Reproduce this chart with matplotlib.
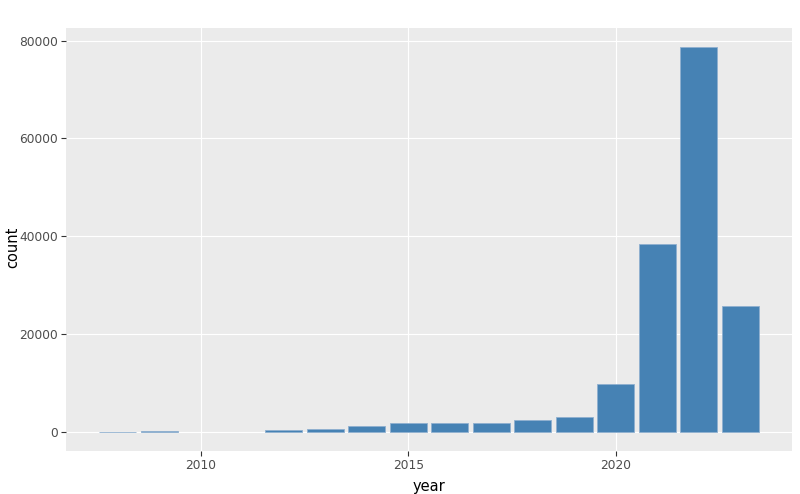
import matplotlib
matplotlib.use("Agg")
import matplotlib.pyplot as plt

# counts per year
years = [2008, 2009, 2012, 2013, 2014, 2015, 2016, 2017, 2018, 2019, 2020, 2021, 2022, 2023]
counts = [30, 260, 420, 620, 1230, 1700, 1850, 1900, 2320, 3080, 9770, 38400, 78600, 25750]

x_ticks = [2010, 2015, 2020]
y_ticks = [0, 20000, 40000, 60000, 80000]

BAR = "#4682B4"
PANEL = "#EBEBEB"
TICK_TXT = "#4D4D4D"

fig = plt.figure(figsize=(8.0, 4.94), dpi=100)
ax = fig.add_axes([0.0825, 0.087, 0.9075, 0.856])
ax.set_facecolor(PANEL)

ax.bar(years, counts, width=0.9, color=BAR, edgecolor="#8FB0CF", linewidth=0.6, zorder=3)

# ggplot-style 5% expansion
lo, hi = min(years) - 0.45, max(years) + 0.45
pad = (hi - lo) * 0.05
ax.set_xlim(lo - pad, hi + pad)
ymax = max(counts)
ax.set_ylim(-ymax * 0.05, ymax * 1.05)

ax.set_xticks(x_ticks)
ax.set_yticks(y_ticks)
ax.set_xticklabels([str(v) for v in x_ticks])
ax.set_yticklabels([str(v) for v in y_ticks])
ax.grid(True, color="white", linewidth=0.8, zorder=0)
ax.set_axisbelow(True)

for s in ax.spines.values():
    s.set_visible(False)
ax.tick_params(axis="both", length=3.5, width=0.8, color="#333333",
               labelsize=8.8, labelcolor=TICK_TXT, pad=2.5)

ax.set_xlabel("year", fontsize=10.5, color="black")
ax.set_ylabel("count", fontsize=10.5, color="black")
# pin axis titles where the reference has them (figure fractions)
ax.xaxis.set_label_coords(429 / 800, 1 - 486 / 494, transform=fig.transFigure)
ax.yaxis.set_label_coords(13 / 800, 0.5, transform=fig.transFigure)
ax.xaxis.label.set_va("center")
ax.yaxis.label.set_va("center")

fig.savefig("out.png", dpi=100)
